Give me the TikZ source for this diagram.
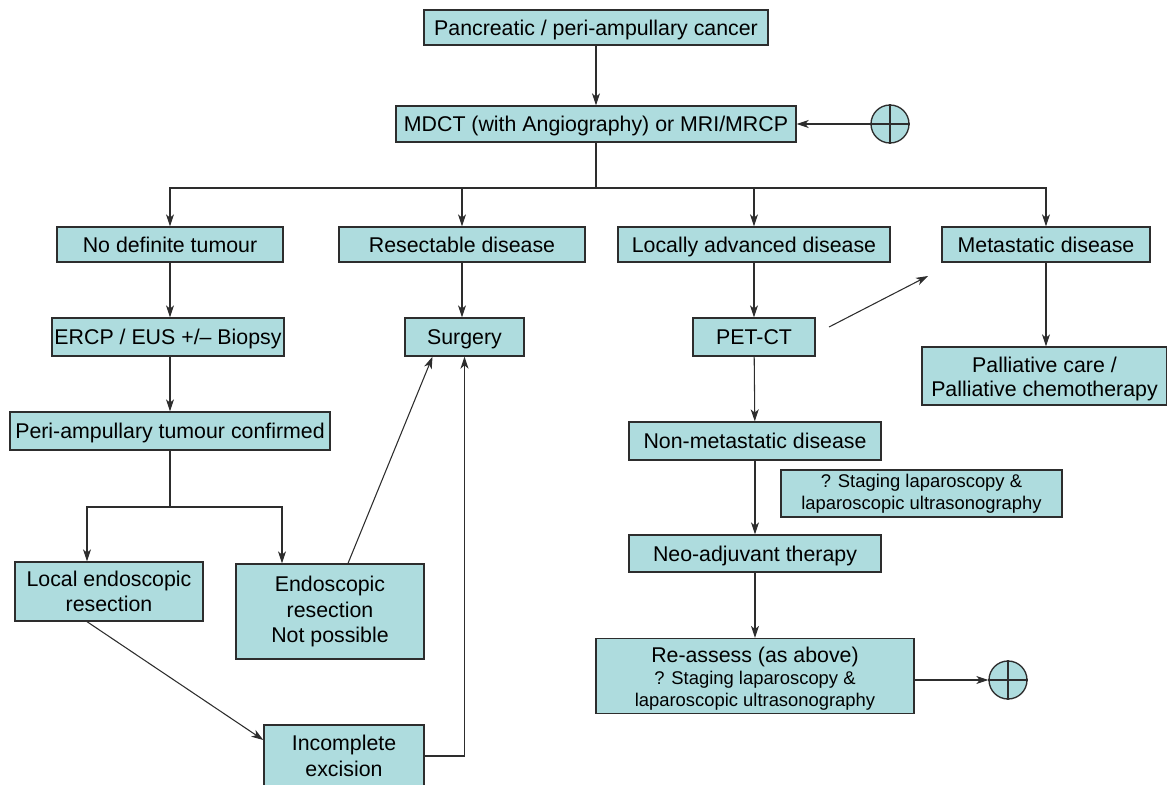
\documentclass[tikz,border=0pt]{standalone}
\usepackage{fontspec}
\setmainfont{Liberation Sans}
\usetikzlibrary{arrows.meta}
\definecolor{boxfill}{RGB}{174,220,222}
\definecolor{boxline}{RGB}{45,45,45}
\tikzset{
  bx/.style n args={2}{draw=boxline, fill=boxfill, line width=1pt,
    minimum width=#1*0.75pt, minimum height=#2*0.75pt, inner sep=0pt,
    align=center, font=\fontsize{16}{19}\selectfont},
  one/.style={text height=11.5pt, text depth=0pt},
  smallbx/.style n args={2}{bx={#1}{#2}, font=\fontsize{13.8}{16.5}\selectfont},
  plus/.style={circle, draw=boxline, fill=boxfill, line width=1pt,
    minimum size=38*0.75pt, inner sep=0pt},
  conn/.style={draw=boxline, line width=0.8pt},
  arr/.style={conn, -{Stealth[length=9pt,width=6pt,inset=2.5pt]}}
}
\begin{document}
\begin{tikzpicture}[x=0.75pt,y=-0.75pt]
\useasboundingbox (0,0) rectangle (1167,785);
% nodes
\node[bx={344}{35},one] (b1) at (596,27.5) {Pancreatic / peri-ampullary cancer};
\node[bx={400}{36},one] (b2) at (596,124) {MDCT (with Angiography) or MRI/MRCP};
\node[plus] (c1) at (890,124) {};
\node[bx={226}{35},one] (nd) at (170,244.5) {No definite tumour};
\node[bx={246}{35},one] (rs) at (462,244.5) {Resectable disease};
\node[bx={272}{35},one] (la) at (754,244.5) {Locally advanced disease};
\node[bx={208}{35},one] (md) at (1046,244.5) {Metastatic disease};
\node[bx={232}{38},one] (ercp) at (168,337) {ERCP / EUS +/\textendash{} Biopsy};
\node[bx={119}{38},one] (surg) at (464.5,337) {Surgery};
\node[bx={122}{38},one] (pet) at (754,337) {PET-CT};
\node[bx={245}{58},font=\fontsize{16}{17.5}\selectfont] (pall) at (1044.5,376) {\rule{0pt}{16pt}Palliative care /\\Palliative chemotherapy};
\node[bx={320}{38},one] (peri) at (170,431) {Peri-ampullary tumour confirmed};
\node[bx={188}{59}] (loc) at (109,591.5) {Local endoscopic\\resection};
\node[bx={188}{95}] (enp) at (330,611.5) {Endoscopic\\resection\\Not possible};
\node[bx={160}{62}] (inc) at (344,756) {Incomplete\\excision};
\node[bx={252}{38},one] (nm) at (755,441) {Non-metastatic disease};
\node[smallbx={281}{47}] (stg) at (921.5,493.5) {? Staging laparoscopy \&\\laparoscopic ultrasonography};
\node[bx={252}{37},one] (neo) at (755,553.5) {Neo-adjuvant therapy};
\node[bx={318}{75},font=\fontsize{13.8}{16.5}\selectfont] (re) at (755,676) {{\fontsize{16}{16.5}\selectfont\rule{0pt}{16pt}Re-assess (as above)}\\? Staging laparoscopy \&\\laparoscopic ultrasonography};
\node[plus] (c2) at (1008,680) {};
% plus signs
\draw[conn] (c1.north) -- (c1.south) (c1.west) -- (c1.east);
\draw[conn] (c2.north) -- (c2.south) (c2.west) -- (c2.east);
% connectors
\draw[arr] (b1) -- (b2);
\draw[arr] (c1.west) -- (b2.east);
\coordinate (j1) at (596,188);
\draw[conn] (b2.south) -- (j1);
\draw[arr] (j1) -| (nd.north);
\draw[arr] (j1) -| (rs.north);
\draw[arr] (j1) -| (la.north);
\draw[arr] (j1) -| (md.north);
\draw[arr] (nd) -- (nd |- ercp.north);
\draw[arr] (ercp.south -| nd) -- (nd |- peri.north);
\draw[arr] (rs) -- (rs |- surg.north);
\draw[arr] (la) -- (pet);
\coordinate (pa) at (829,327);
\coordinate (pb) at (928,276);
\draw[arr] (pa) -- (pb);
\draw[arr] (md.south) -- (md |- pall.north);
\coordinate (j2) at (170,507);
\coordinate (la1) at (87,507);
\coordinate (ra1) at (282,507);
\draw[conn] (peri.south) -- (j2);
\draw[arr] (j2) -- (la1) -- (la1 |- loc.north);
\draw[arr] (j2) -- (ra1) -- (ra1 |- enp.north);
\draw[arr] ([xshift=13.5pt]enp.north) -- ([xshift=-24pt]surg.south);
\draw[arr] ([xshift=-16.5pt]loc.south) -- ([yshift=12pt]inc.west);
\draw[arr] ([yshift=0pt]inc.east) -| (surg.south);
\draw[arr] (pet) -- (nm);
\draw[arr] (nm) -- (neo);
\draw[arr] (neo) -- (re);
\draw[arr] (re.east |- c2) -- (c2.west);
\end{tikzpicture}
\end{document}
